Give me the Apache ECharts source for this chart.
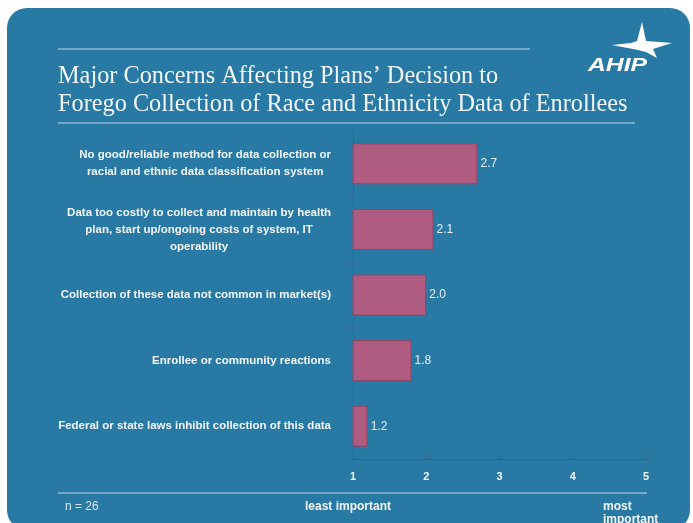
<!DOCTYPE html>
<html>
<head>
<meta charset="utf-8">
<script src="https://cdn.jsdelivr.net/npm/echarts@6/dist/echarts.min.js"></script>
<style>
  html, body { margin: 0; padding: 0; background: #ffffff; }
  #chart { width: 693px; height: 523px; }
</style>
</head>
<body>
<div id="chart"></div>
<script>
// Concerns, listed top to bottom
const concerns = [
  'No good/reliable method for data collection or\nracial and ethnic data classification system',
  'Data too costly to collect and maintain by health\nplan, start up/ongoing costs of system, IT\noperability',
  'Collection of these data not common in market(s)',
  'Enrollee or community reactions',
  'Federal or state laws inhibit collection of this data'
];
// Mean importance rating (1 = least important, 5 = most important)
const ratings = [2.7, 2.1, 2.0, 1.8, 1.2];
const scaleTicks = [1, 2, 3, 4, 5];

const titleLines = [
  'Major Concerns Affecting Plans\u2019 Decision to',
  'Forego Collection of Race and Ethnicity Data of Enrollees'
];
const sampleNote = 'n = 26';
const lowEndNote = 'least important';
const highEndNote = 'most\nimportant';

const panelBlue = '#2879a4';
const ruleBlue = '#8dbad4';
const textWhite = '#f2f6f9';
const barRose = '#b05b80';
const axisGrey = '#40627a';

const chart = echarts.init(document.getElementById('chart'), null, { renderer: 'canvas' });

chart.setOption({
  backgroundColor: '#ffffff',
  animation: false,
  title: {
    text: titleLines.join('\n'),
    left: 53,
    top: 58,
    textStyle: {
      fontFamily: 'Liberation Serif',
      fontWeight: 'normal',
      fontSize: 24.3,
      lineHeight: 28,
      color: textWhite
    }
  },
  grid: { left: 353, right: 47, top: 131, height: 328, containLabel: false },
  xAxis: {
    type: 'value',
    min: scaleTicks[0],
    max: scaleTicks[scaleTicks.length - 1],
    interval: 1,
    axisLine: { show: true, lineStyle: { color: axisGrey, width: 1 } },
    axisTick: { show: true, inside: true, length: 3, lineStyle: { color: axisGrey } },
    splitLine: { show: false },
    axisLabel: {
      margin: 12,
      color: textWhite,
      fontFamily: 'Liberation Sans',
      fontWeight: 'bold',
      fontSize: 11
    }
  },
  yAxis: {
    type: 'category',
    inverse: true,
    data: concerns,
    axisLine: { show: true, lineStyle: { color: axisGrey, width: 1 } },
    axisTick: { show: true, length: 3, lineStyle: { color: axisGrey } },
    axisLabel: {
      margin: 22,
      align: 'right',
      formatter: function (v) {
        return v.split('\n').map(function (line) { return '{c|' + line + '}'; }).join('\n');
      },
      rich: {
        c: {
          align: 'center',
          color: textWhite,
          fontFamily: 'Liberation Sans',
          fontWeight: 'bold',
          fontSize: 11.5,
          lineHeight: 17
        }
      }
    }
  },
  series: [{
    type: 'bar',
    data: ratings,
    barWidth: 41,
    itemStyle: { color: barRose, borderColor: '#8e4466', borderWidth: 1 },
    label: {
      show: true,
      position: 'right',
      distance: 3,
      formatter: function (p) { return p.value.toFixed(1); },
      color: '#e8eff4',
      fontFamily: 'Liberation Sans',
      fontSize: 12
    }
  }],
  graphic: [
    {
      type: 'rect', z: -10, silent: true,
      shape: { x: 7, y: 8, width: 683, height: 522, r: 20 },
      style: { fill: panelBlue }
    },
    {
      type: 'line', silent: true,
      shape: { x1: 58, y1: 49, x2: 530, y2: 49 },
      style: { stroke: ruleBlue, lineWidth: 1.5 }
    },
    {
      type: 'line', silent: true,
      shape: { x1: 58, y1: 123, x2: 635, y2: 123 },
      style: { stroke: ruleBlue, lineWidth: 1.5 }
    },
    {
      type: 'line', silent: true,
      shape: { x1: 58, y1: 493, x2: 647, y2: 493 },
      style: { stroke: ruleBlue, lineWidth: 1.5 }
    },
    {
      type: 'text', silent: true, left: 65, top: 501,
      style: { text: sampleNote, fill: '#dfe8ef', font: '12px "Liberation Sans"' }
    },
    {
      type: 'text', silent: true, left: 305, top: 501,
      style: { text: lowEndNote, fill: textWhite, font: 'bold 12px "Liberation Sans"' }
    },
    {
      type: 'text', silent: true, left: 603, top: 500,
      style: { text: highEndNote, fill: textWhite, font: 'bold 12px "Liberation Sans"', lineHeight: 13 }
    },
    // AHIP mark
    {
      type: 'polygon', silent: true,
      shape: { points: [[642, 22], [646, 41], [672, 43], [653, 49], [657, 58], [646, 52], [638, 50], [612, 45], [631, 43], [637, 41]] },
      style: { fill: '#ffffff' }
    },
    {
      type: 'text', silent: true, x: 588, y: 56, scaleX: 1.3,
      style: { text: 'AHIP', fill: '#ffffff', font: 'italic 900 19px "Liberation Sans"' }
    }
  ]
});
</script>
</body>
</html>
